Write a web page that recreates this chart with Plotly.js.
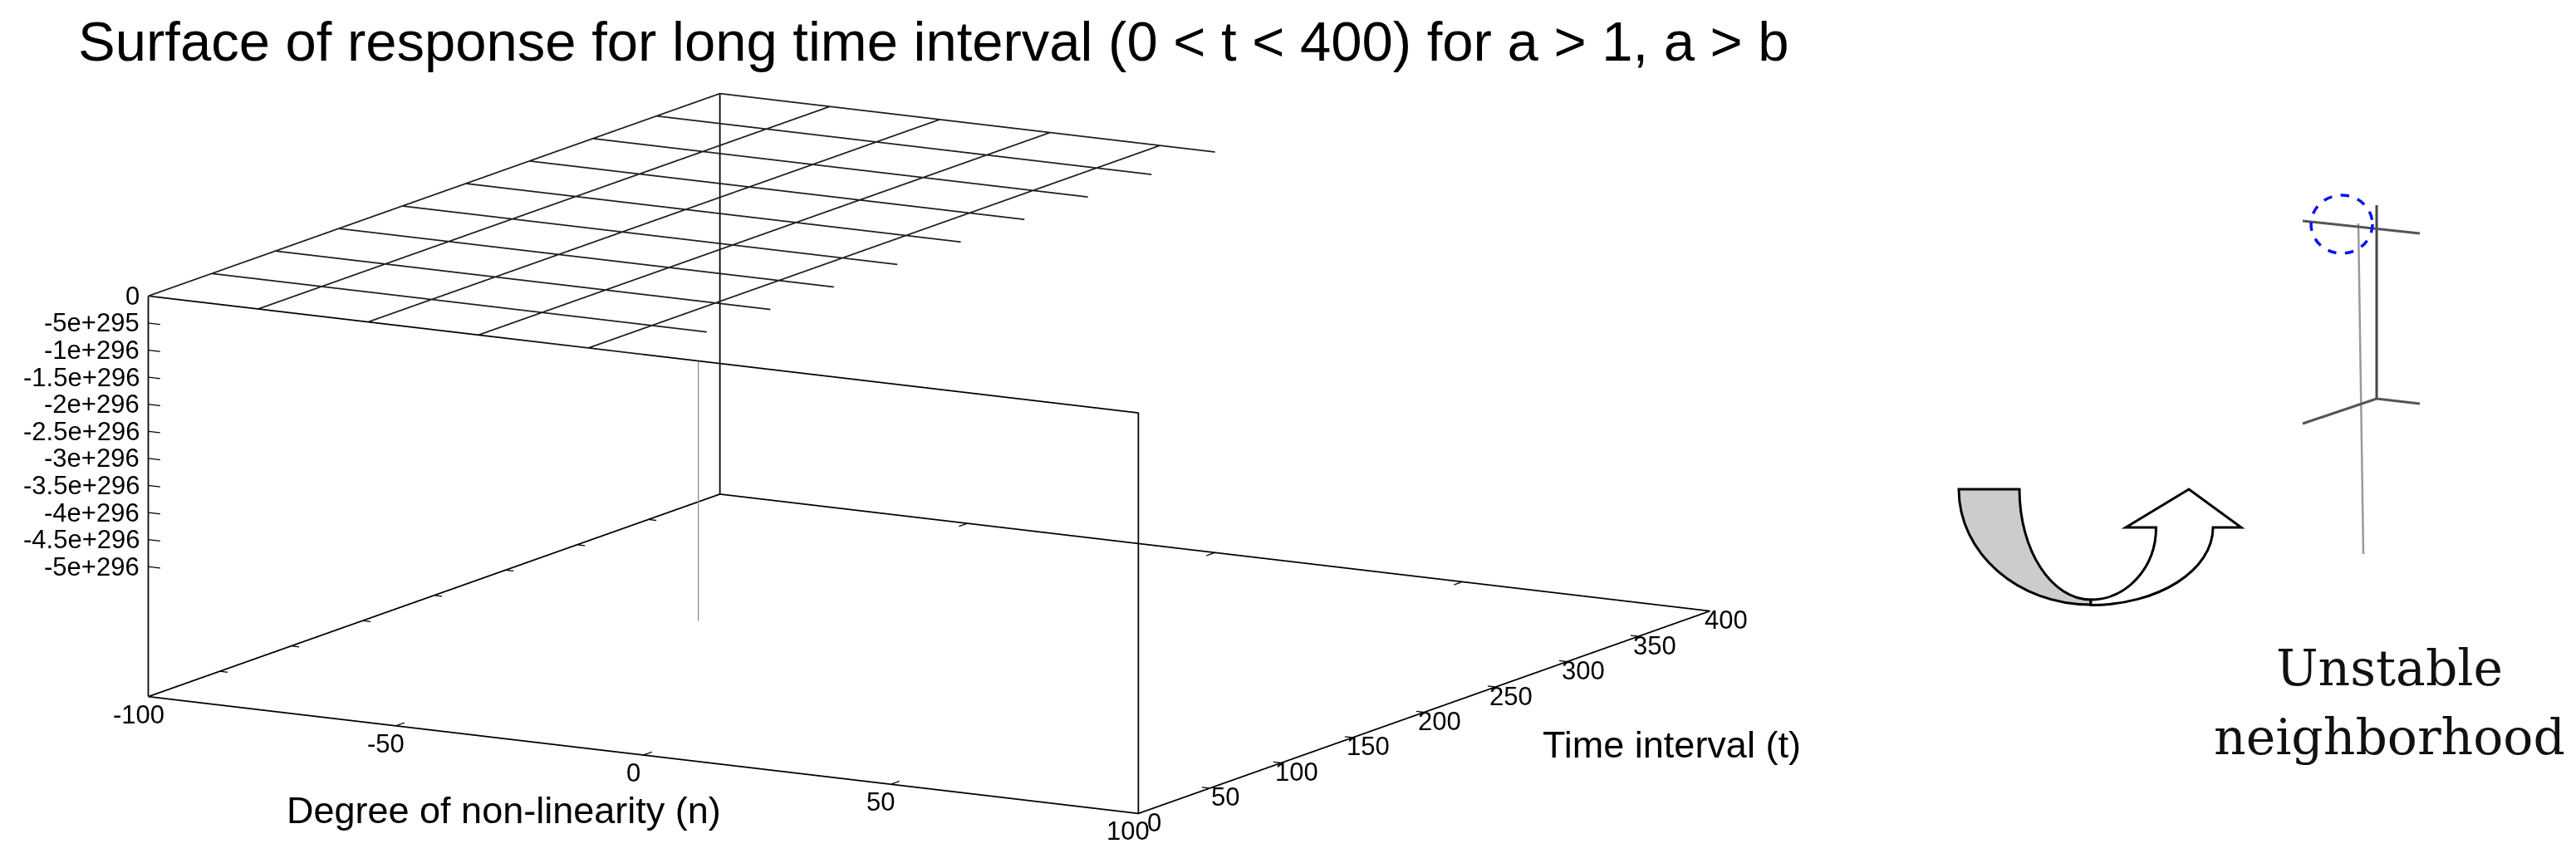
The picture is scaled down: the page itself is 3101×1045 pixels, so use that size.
<!DOCTYPE html>
<html><head><meta charset="utf-8">
<script src="https://cdn.plot.ly/plotly-3.0.1.min.js"></script>
<style>html,body{margin:0;padding:0;background:#fff}#chart{width:3101px;height:1045px}</style>
</head><body><div id="chart"></div>
<script>
// ---------------- data ----------------
const nGrid = [-100, -77.8, -55.6, -33.3, -11.1, 11.1, 33.3, 55.6, 77.8, 100];
const tGrid = [0, 44.4, 88.9, 133.3, 177.8, 222.2, 266.7, 311.1, 355.6, 400];
// response z(n,t): finite (0) for n <= -11.1, overflow (undefined) beyond
const zRow0 = [0, 0, 0, 0, 0, null, null, null, null, null];
const zRow1 = [0, 0, 0, 0, 0, null, null, null, null, null];
const zRow2 = [0, 0, 0, 0, 0, null, null, null, null, null];
const zRow3 = [0, 0, 0, 0, 0, null, null, null, null, null];
const zRow4 = [0, 0, 0, 0, 0, null, null, null, null, null];
const zRow5 = [0, 0, 0, 0, 0, null, null, null, null, null];
const zRow6 = [0, 0, 0, 0, 0, null, null, null, null, null];
const zRow7 = [0, 0, 0, 0, 0, null, null, null, null, null];
const zRow8 = [0, 0, 0, 0, 0, null, null, null, null, null];
const zRow9 = [0, 0, 0, 0, 0, null, null, null, null, null];
const zRows = [zRow0, zRow1, zRow2, zRow3, zRow4, zRow5, zRow6, zRow7, zRow8, zRow9];
// unstable point (spike)
const spikeN = [11.1];
const spikeT = [0];
const spikeZ = [-4.8e296];

// axes
const nRange = [-100, 100];
const tRange = [0, 400];
const zRange = [-7.4e296, 0];
const nTicks = [-100, -50, 0, 50, 100];
const nTickText = ['-100', '-50', '0', '50', '100'];
const tTicks = [0, 50, 100, 150, 200, 250, 300, 350, 400];
const tTickText = ['0', '50', '100', '150', '200', '250', '300', '350', '400'];
const zTicks = [0, -5e295, -1e296, -1.5e296, -2e296, -2.5e296, -3e296, -3.5e296, -4e296, -4.5e296, -5e296];
const zTickText = ['0', '-5e+295', '-1e+296', '-1.5e+296', '-2e+296', '-2.5e+296', '-3e+296', '-3.5e+296', '-4e+296', '-4.5e+296', '-5e+296'];

// ---------------- build wireframe from data ----------------
const W = {x: [], y: [], z: []};
function pushPt(o, x, y, z) { o.x.push(x); o.y.push(y); o.z.push(z); }
function brk(o) { o.x.push(null); o.y.push(null); o.z.push(null); }
// rows (constant t)
zRows.forEach((row, i) => {
  let last = -1;
  for (let j = 0; j < row.length; j++) { if (row[j] === null) break; last = j; }
  for (let j = 0; j <= last; j++) pushPt(W, nGrid[j], tGrid[i], row[j]);
  if (last < row.length - 1) pushPt(W, (nGrid[last] + nGrid[last + 1]) / 2, tGrid[i], row[last]);
  brk(W);
});
// columns (constant n)
nGrid.forEach((n, j) => {
  if (zRows.every(r => r[j] !== null)) {
    tGrid.forEach((t, i) => pushPt(W, n, t, zRows[i][j]));
    brk(W);
  }
});

// spike
const S = {x: [], y: [], z: []};
spikeN.forEach((n, k) => {
  const j = nGrid.indexOf(n), i = tGrid.indexOf(spikeT[k]);
  const top = (zRows[i] && zRows[i][j] !== null && zRows[i][j] !== undefined) ? zRows[i][j] : 0;
  pushPt(S, n, spikeT[k], top); pushPt(S, n, spikeT[k], spikeZ[k]); brk(S);
});

// box border
const B = {x: [], y: [], z: []};
const n0 = nRange[0], n1 = nRange[1], t0 = tRange[0], t1 = tRange[1], zb = zRange[0], zt = zRange[1];
[[n0,t0,zb],[n1,t0,zb],[n1,t1,zb],[n0,t1,zb],[n0,t0,zb]].forEach(p => pushPt(B, p[0], p[1], p[2])); brk(B);
[[n0,t0,zb],[n0,t0,zt]].forEach(p => pushPt(B, p[0], p[1], p[2])); brk(B);
[[n0,t1,zb],[n0,t1,zt]].forEach(p => pushPt(B, p[0], p[1], p[2])); brk(B);
[[n1,t0,zb],[n1,t0,zt],[n0,t0,zt]].forEach(p => pushPt(B, p[0], p[1], p[2])); brk(B);

// tick marks
const T = {x: [], y: [], z: []};
const tl = (t1 - t0) * 0.015, nl = (n1 - n0) * 0.008;
nTicks.forEach(v => { pushPt(T, v, t0, zb); pushPt(T, v, t0 + tl, zb); brk(T); pushPt(T, v, t1, zb); pushPt(T, v, t1 - tl, zb); brk(T); });
tTicks.forEach(v => { pushPt(T, n1, v, zb); pushPt(T, n1 - nl, v, zb); brk(T); pushPt(T, n0, v, zb); pushPt(T, n0 + nl, v, zb); brk(T); });
zTicks.forEach(v => { pushPt(T, n0, t0, v); pushPt(T, n0 + nl * 1.5, t0, v); brk(T); });

const line3 = (o, color, width) => ({type: 'scatter3d', mode: 'lines', x: o.x, y: o.y, z: o.z,
  connectgaps: false, line: {color: color, width: width}, hoverinfo: 'skip', showlegend: false});

const traces = [
  line3(B, '#000000', 3.5),
  line3(T, '#000000', 2.5),
  line3(W, '#1e1e1e', 3.5),
  line3(S, '#8a8a8a', 2.5)
];

// ---------------- annotations ----------------
const F = 'Liberation Sans, Arial, sans-serif';
const sceneAnn = [];
zTicks.forEach((v, k) => sceneAnn.push({x: n0, y: t0, z: v, text: zTickText[k], showarrow: false,
  xanchor: 'right', yanchor: 'middle', xshift: -9, font: {family: F, size: 31, color: '#000'}}));
nTicks.forEach((v, k) => sceneAnn.push({x: v, y: t0, z: zb, text: nTickText[k], showarrow: false,
  xanchor: 'center', yanchor: 'top', xshift: -12, yshift: -2, font: {family: F, size: 31, color: '#000'}}));
tTicks.forEach((v, k) => sceneAnn.push({x: n1, y: v, z: zb, text: tTickText[k], showarrow: false,
  xanchor: 'center', yanchor: 'middle', xshift: 19, yshift: -11, font: {family: F, size: 31, color: '#000'}}));

const PW = 3101, PH = 1045;
const px = v => v / PW, py = v => 1 - v / PH;

const annotations = [
  {xref: 'paper', yref: 'paper', x: px(606), y: py(975), text: 'Degree of non-linearity (n)', showarrow: false,
   xanchor: 'center', yanchor: 'middle', font: {family: F, size: 45, color: '#000'}},
  {xref: 'paper', yref: 'paper', x: px(1855), y: py(896), text: 'Time interval (t)', showarrow: false,
   xanchor: 'left', yanchor: 'middle', font: {family: F, size: 45, color: '#000'}},
  {xref: 'paper', yref: 'paper', x: px(2876), y: py(804), text: 'Unstable', showarrow: false,
   xanchor: 'center', yanchor: 'middle', font: {family: 'DejaVu Serif, serif', size: 60, color: '#111'}},
  {xref: 'paper', yref: 'paper', x: px(2876), y: py(887), text: 'neighborhood', showarrow: false,
   xanchor: 'center', yanchor: 'middle', font: {family: 'DejaVu Serif, serif', size: 60, color: '#111'}}
];

// decorative curved arrow and magnified inset (page-pixel geometry -> paper)
const K = 0.5523;
function P(x, y) { return px(x).toFixed(5) + ',' + py(y).toFixed(5); }
function qDownLeft(cx, cy, rx, ry) { // from (cx-rx, cy) to (cx, cy+ry)
  return 'C' + P(cx - rx, cy + K * ry) + ' ' + P(cx - K * rx, cy + ry) + ' ' + P(cx, cy + ry);
}
function qUpFromBottom(cx, cy, rx, ry) { // from (cx, cy+ry) back to (cx-rx, cy)
  return 'C' + P(cx - K * rx, cy + ry) + ' ' + P(cx - rx, cy + K * ry) + ' ' + P(cx - rx, cy);
}
function qBottomToRight(cx, cy, rx, ry) { // from (cx, cy+ry) to (cx+rx, cy)
  return 'C' + P(cx + K * rx, cy + ry) + ' ' + P(cx + rx, cy + K * ry) + ' ' + P(cx + rx, cy);
}
function qRightToBottom(cx, cy, rx, ry) { // from (cx+rx, cy) to (cx, cy+ry)
  return 'C' + P(cx + rx, cy + K * ry) + ' ' + P(cx + K * rx, cy + ry) + ' ' + P(cx, cy + ry);
}
const ux = 2517, uy = 589;
const greyPath = 'M' + P(2358, uy) + ' L' + P(2431, uy) + ' ' + qDownLeft(ux, uy, 86, 133) +
  ' L' + P(ux, 728) + ' ' + qUpFromBottom(ux, uy, 159, 139) + ' Z';
const wy = 635;
const whitePath = 'M' + P(ux, 722) + ' ' + qBottomToRight(ux, wy, 78.5, 87) +
  ' L' + P(2559, wy) + ' L' + P(2635, uy) + ' L' + P(2698, wy) + ' L' + P(2664, wy) + ' ' +
  qRightToBottom(ux, wy, 147, 93.5) + ' Z';

const shapes = [
  {type: 'path', xref: 'paper', yref: 'paper', path: greyPath, fillcolor: '#cccccc', line: {color: '#000', width: 3}},
  {type: 'path', xref: 'paper', yref: 'paper', path: whitePath, fillcolor: '#ffffff', line: {color: '#000', width: 3}},
  {type: 'line', xref: 'paper', yref: 'paper', x0: px(2861), y0: py(247), x1: px(2861), y1: py(480), line: {color: '#444', width: 3}},
  {type: 'line', xref: 'paper', yref: 'paper', x0: px(2839), y0: py(269), x1: px(2845), y1: py(667), line: {color: '#9a9a9a', width: 2.5}},
  {type: 'line', xref: 'paper', yref: 'paper', x0: px(2772), y0: py(266), x1: px(2913), y1: py(281), line: {color: '#555', width: 3}},
  {type: 'line', xref: 'paper', yref: 'paper', x0: px(2772), y0: py(510), x1: px(2861), y1: py(480), line: {color: '#555', width: 3}},
  {type: 'line', xref: 'paper', yref: 'paper', x0: px(2861), y0: py(480), x1: px(2913), y1: py(486), line: {color: '#555', width: 3}},
  {type: 'circle', xref: 'paper', yref: 'paper', x0: px(2782), x1: px(2856), y0: py(305), y1: py(235), line: {color: '#1010ee', width: 3.5, dash: 'dash'}}
];

// ---------------- view ----------------
const rz = 30 * Math.PI / 180, el = 11.8 * Math.PI / 180;
const L = 2.0, A = 2.758;
const hideAx = {showgrid: false, zeroline: false, showline: false, showticklabels: false, ticks: '',
  showbackground: false, showspikes: false, title: {text: ''}};

const layout = {
  width: PW, height: PH,
  margin: {l: 0, r: 0, t: 0, b: 0},
  paper_bgcolor: '#fff',
  showlegend: false,
  title: {text: 'Surface of response for long time interval (0 &lt; t &lt; 400) for a &gt; 1, a &gt; b',
    x: px(94), xanchor: 'left', xref: 'paper', y: py(50), yref: 'container', yanchor: 'middle',
    pad: {l: 0, r: 0, t: 0, b: 0},
    font: {family: F, size: 67, color: '#000'}},
  scene: {
    domain: {x: [0, 0.7214], y: [0, 0.955]},
    aspectmode: 'manual', aspectratio: {x: A, y: A, z: 0.358 * A},
    camera: {eye: {x: L * Math.sin(rz) * Math.cos(el), y: -L * Math.cos(rz) * Math.cos(el), z: L * Math.sin(el)},
      up: {x: 0, y: 0, z: 1}, center: {x: 0, y: 0, z: 0}, projection: {type: 'orthographic'}},
    xaxis: Object.assign({range: nRange}, hideAx),
    yaxis: Object.assign({range: tRange}, hideAx),
    zaxis: Object.assign({range: zRange}, hideAx),
    annotations: sceneAnn,
    bgcolor: 'rgba(0,0,0,0)'
  },
  annotations: annotations,
  shapes: shapes
};

Plotly.newPlot('chart', traces, layout, {displayModeBar: false, responsive: false});
</script>
</body></html>
